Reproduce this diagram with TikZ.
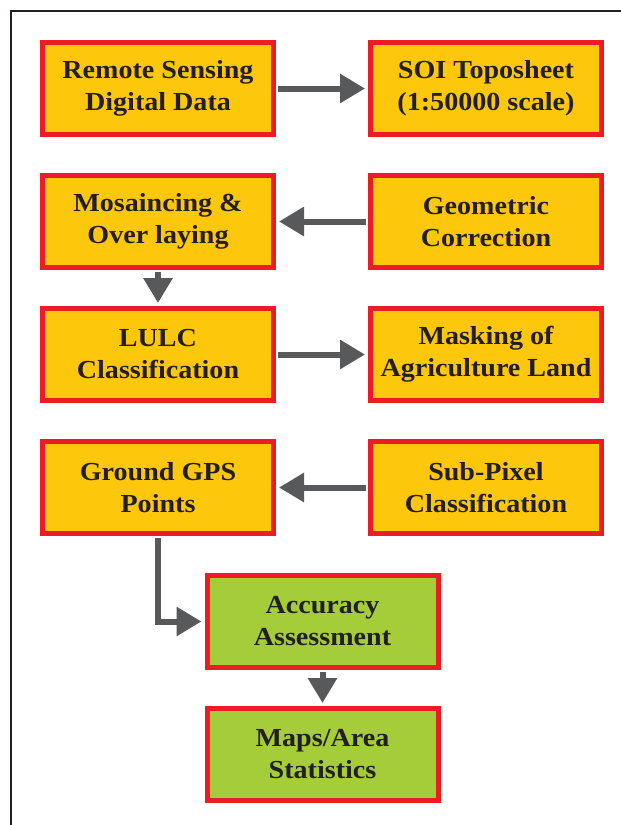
\documentclass[tikz,border=0pt]{standalone}
\usepackage{fontspec}
\setmainfont{Liberation Serif}[FakeStretch=1.08]
\usetikzlibrary{arrows.meta, positioning}
\definecolor{boxred}{HTML}{ED1C24}
\definecolor{boxyellow}{HTML}{FDC70C}
\definecolor{boxgreen}{HTML}{A5CD39}
\definecolor{arrowgray}{HTML}{58595B}
\definecolor{textdark}{HTML}{231F20}

\begin{document}
\begin{tikzpicture}[
      x=1pt, y=-1pt,
      >={Triangle[length=25pt, width=28pt]},
      node distance=36pt and 92pt,
      every node/.append style={font=\fontsize{26}{32}\selectfont\bfseries, text=textdark},
      box/.style={rectangle, draw=boxred, line width=5pt,
                  minimum width=231pt, minimum height=92pt, align=center,
                  inner sep=0pt},
      ybox/.style={box, fill=boxyellow},
      gbox/.style={box, fill=boxgreen},
      arr/.style={->, draw=arrowgray, line width=6pt, shorten <=2pt, shorten >=3pt},
    ]
      \useasboundingbox (0,0) rectangle (621,825);
      \draw[textdark, line width=2.8pt] (11,825) -- (11,11) -- (621,11);

      \node[ybox] (RSD) at (158,88.5) {Remote Sensing \\ Digital Data};
      \node[ybox, right=of RSD] (SOI) {SOI Toposheet \\ (1:50000 scale)};
      \node[ybox, below=of RSD] (MOS) {Mosaincing \& \\ Over laying};
      \node[ybox, right=of MOS] (GEO) {Geometric \\ Correction};
      \node[ybox, below=of MOS] (LULC) {LULC \\ Classification};
      \node[ybox, right=of LULC] (MASK) {Masking of \\ Agriculture Land};
      \node[ybox, below=of LULC] (GPS) {Ground GPS \\ Points};
      \node[ybox, right=of GPS] (SUB) {Sub-Pixel \\ Classification};
      \node[gbox] (ACC) at (322.5,621.5) {Accuracy \\ Assessment};
      \node[gbox, below=of ACC] (MAP) {Maps/Area \\ Statistics};

      \draw[arr] (RSD) -- (SOI);
      \draw[arr] (GEO) -- (MOS);
      \draw[arr] (MOS) -- (LULC);
      \draw[arr] (LULC) -- (MASK);
      \draw[arr] (SUB) -- (GPS);
      \draw[arr] (GPS.south) |- (ACC.west);
      \draw[arr] (ACC) -- (MAP);
    \end{tikzpicture}
\end{document}
